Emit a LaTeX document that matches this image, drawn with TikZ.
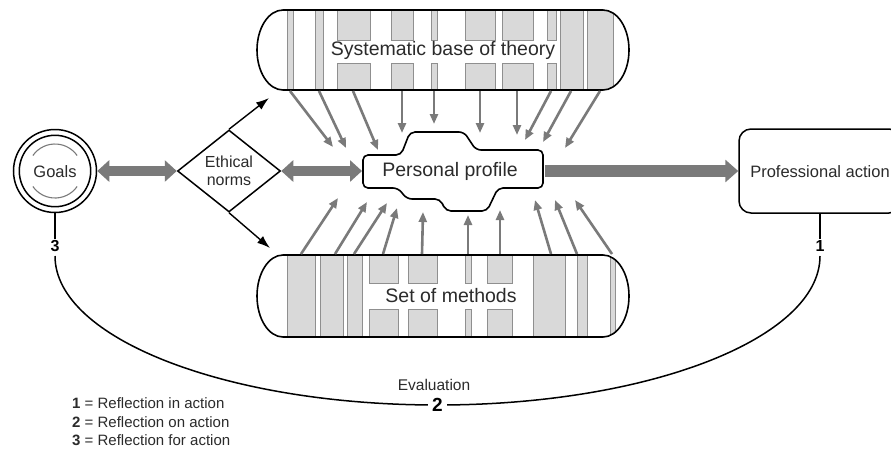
\documentclass[tikz,border=0pt]{standalone}
\usepackage{fontspec}
\setmainfont{Liberation Sans}
\usetikzlibrary{arrows.meta,shapes.geometric}
\definecolor{arrgray}{HTML}{7A7A7A}
\definecolor{stripefill}{HTML}{D9D9D9}
\definecolor{stripeline}{HTML}{8F8F8F}
\definecolor{txt}{HTML}{2B2B2B}
\begin{document}
\begin{tikzpicture}[x=1pt,y=-1pt,
  thinarrow/.style={draw=arrgray, line width=2.6pt, -{Triangle[length=10pt,width=8pt]}},
  fatarrow/.style={draw=arrgray, line width=10pt, {Triangle[length=12pt,width=21pt]}-{Triangle[length=12pt,width=21pt]}},
  mainarrow/.style={draw=arrgray, line width=12pt, -{Triangle[length=13pt,width=22pt]}},
  blackarrow/.style={draw=black, line width=1.4pt, -{Latex[length=13pt,width=9pt]}},
  stripe/.style={fill=stripefill, draw=stripeline, line width=0.8pt},
  outline/.style={draw=black, line width=1.6pt},
  bigtxt/.style={text=txt, font=\fontsize{19.5}{22}\selectfont},
  midtxt/.style={text=txt, font=\fontsize{16.5}{18}\selectfont},
  legtxt/.style={text=txt, font=\fontsize{15}{17}\selectfont, anchor=west, inner sep=0pt},
  numtxt/.style={text=black, font=\fontsize{16}{18}\selectfont\bfseries, inner sep=1pt}
]
\useasboundingbox (0,0) rectangle (891,451);
\fill[white] (0,0) rectangle (891,451);

% ---------- top bar ----------
\begin{scope}
\clip (283,10) -- (603,10) arc[start angle=-90, end angle=90, x radius=26, y radius=40]
      -- (283,90) arc[start angle=90, end angle=270, x radius=26, y radius=40] -- cycle;
\foreach \a/\b in {287/293,315/323,560/583,587/613}
  \filldraw[stripe] (\a,8) rectangle (\b,92);
\foreach \a/\b in {337/370,391/413,431/437,465/495,502/533,547/556}{
  \filldraw[stripe] (\a,8) rectangle (\b,40);
  \filldraw[stripe] (\a,63) rectangle (\b,92);}
\end{scope}
\draw[outline] (283,10) -- (603,10) arc[start angle=-90, end angle=90, x radius=26, y radius=40]
      -- (283,90) arc[start angle=90, end angle=270, x radius=26, y radius=40] -- cycle;
\node[bigtxt] (theory) at (443,50) {Systematic base of theory};

% ---------- bottom bar ----------
\begin{scope}
\clip (283,255) -- (603,255) arc[start angle=-90, end angle=90, x radius=26, y radius=41]
      -- (283,337) arc[start angle=90, end angle=270, x radius=26, y radius=41] -- cycle;
\foreach \a/\b in {287/315,320/343,347/362,533/565,577/587,610/615}
  \filldraw[stripe] (\a,253) rectangle (\b,339);
\foreach \a/\b in {369/398,408/437,465/471,487/512}{
  \filldraw[stripe] (\a,253) rectangle (\b,283);
  \filldraw[stripe] (\a,309) rectangle (\b,339);}
\end{scope}
\draw[outline] (283,255) -- (603,255) arc[start angle=-90, end angle=90, x radius=26, y radius=41]
      -- (283,337) arc[start angle=90, end angle=270, x radius=26, y radius=41] -- cycle;
\node[bigtxt] (methods) at (451,296) {Set of methods};

% ---------- personal profile ----------
\draw[outline, fill=white, rounded corners=5pt]
  (363,172) -- (363,155) -- (401,155) -- (410,132) -- (464,132) -- (476,150)
  -- (543,150) -- (543,188) -- (498,188) -- (487,211) -- (446,211) -- (440,199)
  -- (407,199) -- (398,188) -- (363,188) -- cycle;
\node[bigtxt] (pp) at (450,171) {Personal profile};
\coordinate (ppw) at (362,171);
\coordinate (ppe) at (545,171);

% ---------- thin arrows ----------
\foreach \sx/\ex/\ey in {290/333/147,319/346/148,353/378/150,402/402/133,434/434/124,
                         480/480/133,517/517/135,551/525/140,571/543/142,600/565/148}
  \draw[thinarrow] (\sx,91) -- (\ex,\ey);
\foreach \sx/\ex/\ey in {301/338/198,335/367/202,354/387/203,383/397/208,422/423/212,
                         468/468/215,500/500/210,551/535/200,577/555/200,612/575/200}
  \draw[thinarrow] (\sx,254) -- (\ex,\ey);

% ---------- goals ----------
\node[circle, draw, line width=1.5pt, minimum size=83pt, inner sep=0pt] (goals) at (55,171) {};
\draw[line width=1.5pt] (goals.center) circle[radius=35.7];
\draw[arrgray, line width=1.1pt] (goals.center) ++(-145:27) arc[start angle=-145, end angle=-35, radius=27];
\draw[arrgray, line width=1.1pt] (goals.center) ++(35:27) arc[start angle=35, end angle=145, radius=27];
\node[midtxt] (goalstxt) at (55,172) {Goals};

% ---------- ethical norms ----------
\node[draw, diamond, aspect=1.25, minimum width=103pt, minimum height=82pt, inner sep=0pt,
      line width=1.5pt, align=center, text=txt, font=\fontsize{16}{17.5}\selectfont] (eth) at (229,171) {Ethical\\norms};
\coordinate (ta) at (269,98);
\coordinate (tb) at (270,248);
\draw[blackarrow] (eth.north) -- (ta);
\draw[blackarrow] (eth.south) -- (tb);

% ---------- professional action ----------
\node[draw, rounded corners=12pt, line width=1.5pt, minimum width=162pt, minimum height=84pt] (prof) at (820,171) {};
\node[midtxt] (proftxt) at (820,172) {Professional action};

% ---------- fat arrows ----------
\draw[fatarrow] (goals.east) -- (eth.west);
\draw[fatarrow] (eth.east) -- (ppw);
\draw[mainarrow] (ppe) -- (prof.west);

% ---------- evaluation loop ----------
\node[numtxt] (n3) at (55,246) {3};
\node[numtxt] (n1) at (820,246) {1};
\draw[line width=1.5pt] (goals.south) -- (n3.north);
\draw[line width=1.5pt] (prof.south) -- (n1.north);
\draw[line width=1.5pt] (55,256) arc[start angle=180, end angle=0, x radius=382.5, y radius=149];
\node[numtxt, fill=white, inner sep=4pt, font=\fontsize{19}{20}\selectfont\bfseries] (n2) at (437.5,405) {2};
\node[text=txt, font=\fontsize{15.5}{17}\selectfont] (eval) at (434,385) {Evaluation};

% ---------- legend ----------
\node[legtxt] (l1) at (72,403) {\textbf{1} = Reflection in action};
\node[legtxt] (l2) at (72,422) {\textbf{2} = Reflection on action};
\node[legtxt] (l3) at (72,440) {\textbf{3} = Reflection for action};
\end{tikzpicture}
\end{document}
